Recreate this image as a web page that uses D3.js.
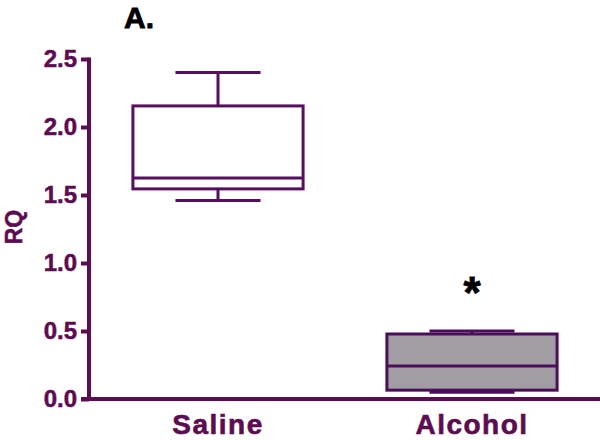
<!DOCTYPE html>
<html><head><meta charset="utf-8">
<script src="https://cdn.jsdelivr.net/npm/d3@7"></script>
<style>body{margin:0;background:#fff}svg{display:block}text{font-family:"Liberation Sans",Arial,sans-serif;font-weight:bold}</style>
</head><body><div id="c"></div>
<script>
const categories = ["Saline", "Alcohol"];
const minVals = [1.46, 0.05];
const q1Vals = [1.545, 0.065];
const medianVals = [1.625, 0.243];
const q3Vals = [2.155, 0.478];
const maxVals = [2.40, 0.50];
const yTicks = [0.0, 0.5, 1.0, 1.5, 2.0, 2.5];
const fills = ["#ffffff", "#a09da3"];
const strokes = ["#560f5e", "#4a0d5c"];
const significant = [false, true];

const W = 600, H = 441;
const axisColor = "#5c0c50";
const svg = d3.select("#c").append("svg").attr("width", W).attr("height", H);

const y = d3.scaleLinear().domain([0, 2.5]).range([399, 59]);
const x = d3.scaleBand().domain(categories).range([91, 599]).paddingInner(0).paddingOuter(0);
const boxW = x.bandwidth() * 0.67;
const capW = boxW * 0.5;

// Y axis
const yAxis = svg.append("g").attr("transform", "translate(89,0)")
  .call(d3.axisLeft(y).tickValues(yTicks).tickFormat(d3.format(".1f")).tickSize(8).tickPadding(4));
yAxis.select(".domain").remove();
yAxis.selectAll(".tick line").attr("stroke", axisColor).attr("stroke-width", 4);
yAxis.selectAll(".tick text").attr("fill", axisColor).attr("font-size", 24)
  .attr("stroke", axisColor).attr("stroke-width", 0.5)
  .attr("font-family", "Liberation Sans, Arial, sans-serif").attr("font-weight", "bold");
svg.append("line").attr("x1", 89).attr("x2", 89).attr("y1", y(2.5) - 1.5).attr("y2", y(0) + 2)
  .attr("stroke", axisColor).attr("stroke-width", 4);

// X axis
const xAxis = svg.append("g").attr("transform", `translate(0,${y(0)})`)
  .call(d3.axisBottom(x).tickSize(0).tickPadding(0));
xAxis.select(".domain").remove();
xAxis.selectAll(".tick text").attr("dy", null).attr("y", 35).attr("fill", axisColor).attr("font-size", 28)
  .attr("letter-spacing", 1.5).attr("stroke", axisColor).attr("stroke-width", 0.6)
  .attr("font-family", "Liberation Sans, Arial, sans-serif").attr("font-weight", "bold");
svg.append("line").attr("x1", 81).attr("x2", 600).attr("y1", y(0)).attr("y2", y(0))
  .attr("stroke", axisColor).attr("stroke-width", 4);

// Boxes
categories.forEach((c, i) => {
  const cx = x(c) + x.bandwidth() / 2;
  const g = svg.append("g");
  const st = strokes[i];
  g.append("line").attr("x1", cx).attr("x2", cx).attr("y1", y(maxVals[i])).attr("y2", y(q3Vals[i])).attr("stroke", st).attr("stroke-width", 3);
  g.append("line").attr("x1", cx).attr("x2", cx).attr("y1", y(minVals[i])).attr("y2", y(q1Vals[i])).attr("stroke", st).attr("stroke-width", 3);
  g.append("line").attr("x1", cx - capW / 2).attr("x2", cx + capW / 2).attr("y1", y(maxVals[i])).attr("y2", y(maxVals[i])).attr("stroke", st).attr("stroke-width", 3);
  g.append("line").attr("x1", cx - capW / 2).attr("x2", cx + capW / 2).attr("y1", y(minVals[i])).attr("y2", y(minVals[i])).attr("stroke", st).attr("stroke-width", 3);
  g.append("rect").attr("x", cx - boxW / 2).attr("width", boxW)
    .attr("y", y(q3Vals[i])).attr("height", y(q1Vals[i]) - y(q3Vals[i]))
    .attr("fill", fills[i]).attr("stroke", st).attr("stroke-width", 3);
  g.append("line").attr("x1", cx - boxW / 2).attr("x2", cx + boxW / 2).attr("y1", y(medianVals[i])).attr("y2", y(medianVals[i])).attr("stroke", st).attr("stroke-width", 3);
  if (significant[i]) {
    svg.append("text").attr("x", cx).attr("y", y(maxVals[i]) - 23).attr("text-anchor", "middle")
      .attr("font-size", 44).attr("fill", "#000").attr("stroke", "#000").attr("stroke-width", 0.8).text("*");
  }
});

// Y label
svg.append("text").attr("transform", "translate(22,227) rotate(-90)").attr("text-anchor", "middle")
  .attr("font-size", 23).attr("fill", axisColor).attr("stroke", axisColor).attr("stroke-width", 0.5).text("RQ");

// Panel label
svg.append("text").attr("x", 124).attr("y", 28).attr("font-size", 30).attr("fill", "#000")
  .attr("stroke", "#000").attr("stroke-width", 0.8).text("A.");
</script></body></html>
